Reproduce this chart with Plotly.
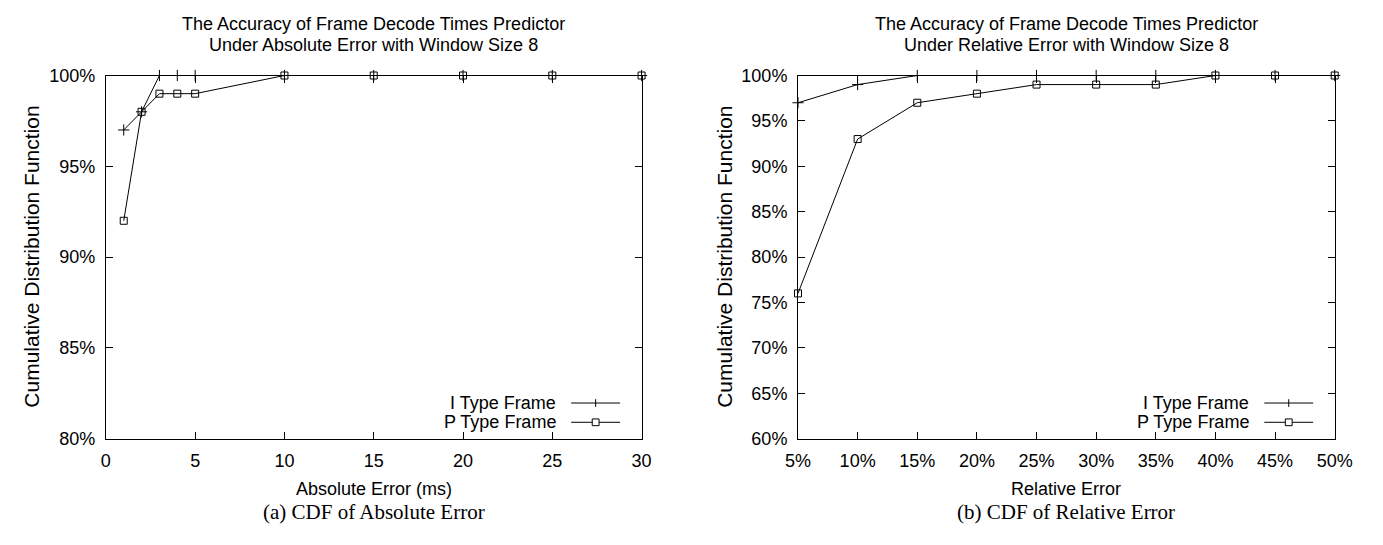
import plotly.graph_objects as go

# ---- data ----
abs_err_ms = [1, 2, 3, 4, 5, 10, 15, 20, 25, 30]
abs_i_cdf = [97, 98, 100, 100, 100, 100, 100, 100, 100, 100]
abs_p_cdf = [92, 98, 99, 99, 99, 100, 100, 100, 100, 100]

rel_err_pct = [5, 10, 15, 20, 25, 30, 35, 40, 45, 50]
rel_i_cdf = [97, 99, 100, 100, 100, 100, 100, 100, 100, 100]
rel_p_cdf = [76, 93, 97, 98, 99, 99, 99, 100, 100, 100]

abs_xticks = [0, 5, 10, 15, 20, 25, 30]
abs_yticks = [80, 85, 90, 95, 100]
rel_xticks = [5, 10, 15, 20, 25, 30, 35, 40, 45, 50]
rel_yticks = [60, 65, 70, 75, 80, 85, 90, 95, 100]

series_names = ["I Type Frame", "P Type Frame"]

# ---- layout helpers (pixel -> paper) ----
W, H = 1383, 545
def px(x):
    return x / W
def py(y):
    return 1 - y / H

SANS = "Liberation Sans, Arial, sans-serif"
SERIF = "Liberation Serif, Times New Roman, serif"
FS = 18

left_box = (95, 643)
right_box = (803, 1352)
top_y, bot_y = 68, 445

def pct(vals):
    return [f"{v}%" for v in vals]

fig = go.Figure()

def add_series(x, y, xa, ya, symbol, size):
    fig.add_trace(go.Scatter(
        x=x, y=y, xaxis=xa, yaxis=ya, mode="lines+markers",
        line=dict(color="black", width=1),
        marker=dict(symbol=symbol, size=size, color="black",
                    line=dict(color="black", width=1)),
        showlegend=False, cliponaxis=False,
    ))

add_series(abs_err_ms, abs_i_cdf, "x", "y", "cross-thin-open", 8)
add_series(abs_err_ms, abs_p_cdf, "x", "y", "square-open", 7)
add_series(rel_err_pct, rel_i_cdf, "x2", "y2", "cross-thin-open", 8)
add_series(rel_err_pct, rel_p_cdf, "x2", "y2", "square-open", 7)

axis_common = dict(
    showline=True, linecolor="black", linewidth=1, mirror="allticks",
    ticks="inside", ticklen=7, tickwidth=1, tickcolor="black",
    showgrid=False, zeroline=False, ticklabelstandoff=6,
    tickfont=dict(family=SANS, size=FS, color="black"),
)

fig.update_layout(
    width=W, height=H,
    margin=dict(l=0, r=0, t=0, b=0),
    paper_bgcolor="white", plot_bgcolor="white",
    xaxis=dict(domain=[px(left_box[0]), px(left_box[1])], range=[0, 30],
               tickmode="array", tickvals=abs_xticks, ticktext=[str(v) for v in abs_xticks],
               anchor="y", **axis_common),
    yaxis=dict(domain=[py(bot_y), py(top_y)], range=[80, 100],
               tickmode="array", tickvals=abs_yticks, ticktext=pct(abs_yticks),
               anchor="x", **axis_common),
    xaxis2=dict(domain=[px(right_box[0]), px(right_box[1])], range=[5, 50],
                tickmode="array", tickvals=rel_xticks, ticktext=pct(rel_xticks),
                anchor="y2", **axis_common),
    yaxis2=dict(domain=[py(bot_y), py(top_y)], range=[60, 100],
                tickmode="array", tickvals=rel_yticks, ticktext=pct(rel_yticks),
                anchor="x2", **axis_common),
)

ann = []
shapes = []

def text(x, y, s, size=FS, family=SANS, xanchor="center", angle=0):
    ann.append(dict(x=px(x), y=py(y), xref="paper", yref="paper", text=s,
                    showarrow=False, xanchor=xanchor, yanchor="middle",
                    textangle=angle, font=dict(family=family, size=size, color="black")))

panels = [
    (left_box, ["The Accuracy of Frame Decode Times Predictor",
                "Under Absolute Error with Window Size 8"],
     "Absolute Error (ms)", "(a) CDF of Absolute Error"),
    (right_box, ["The Accuracy of Frame Decode Times Predictor",
                 "Under Relative Error with Window Size 8"],
     "Relative Error", "(b) CDF of Relative Error"),
]

for (x0, x1), title_lines, xlabel, caption in panels:
    cx = (x0 + x1) / 2
    text(cx, 15, title_lines[0])
    text(cx, 36, title_lines[1])
    text(cx, 497, xlabel)
    text(cx, 521, caption, size=21, family=SERIF)
    text(x0 - 76, (top_y + bot_y) / 2, "Cumulative Distribution Function", size=21, angle=-90)

    # key: label on the left, line sample with marker on the right
    line_x0, line_x1 = x1 - 72, x1 - 22
    mx = (line_x0 + line_x1) / 2
    for row_y, name, kind in [(408, series_names[0], "plus"), (428, series_names[1], "square")]:
        text(line_x0 - 14, row_y, name, xanchor="right")
        shapes.append(dict(type="line", xref="paper", yref="paper",
                           x0=px(line_x0), x1=px(line_x1), y0=py(row_y), y1=py(row_y),
                           line=dict(color="black", width=1)))
        if kind == "plus":
            shapes.append(dict(type="line", xref="paper", yref="paper",
                               x0=px(mx), x1=px(mx), y0=py(row_y - 4), y1=py(row_y + 4),
                               line=dict(color="black", width=1)))
        else:
            shapes.append(dict(type="rect", xref="paper", yref="paper",
                               x0=px(mx - 3.5), x1=px(mx + 3.5), y0=py(row_y - 3.5), y1=py(row_y + 3.5),
                               line=dict(color="black", width=1), fillcolor="white"))

fig.update_layout(annotations=ann, shapes=shapes)
fig.write_html("out.html")
